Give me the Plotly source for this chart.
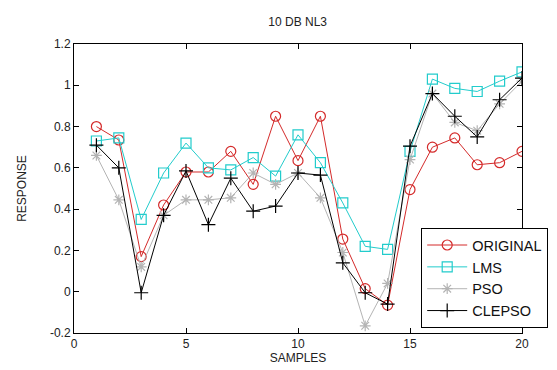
import plotly.graph_objects as go

samples = list(range(1, 21))
original = [0.80, 0.735, 0.17, 0.42, 0.58, 0.58, 0.68, 0.52, 0.85, 0.635,
            0.85, 0.255, 0.015, -0.065, 0.495, 0.70, 0.745, 0.615, 0.625, 0.68]
lms = [0.73, 0.745, 0.35, 0.575, 0.72, 0.60, 0.59, 0.65, 0.56, 0.76,
       0.625, 0.43, 0.22, 0.205, 0.68, 1.03, 0.985, 0.97, 1.02, 1.065]
pso = [0.66, 0.445, 0.12, 0.37, 0.445, 0.445, 0.455, 0.575, 0.52, 0.575,
       0.455, 0.19, -0.165, 0.04, 0.64, 0.96, 0.82, 0.78, 0.91, 1.02]
clepso = [0.71, 0.60, -0.005, 0.37, 0.585, 0.325, 0.55, 0.39, 0.415, 0.575,
          0.565, 0.14, -0.005, -0.06, 0.705, 0.96, 0.85, 0.75, 0.93, 1.035]

x_ticks = [0, 5, 10, 15, 20]
y_ticks = [-0.2, 0, 0.2, 0.4, 0.6, 0.8, 1, 1.2]
y_tick_text = ["-0.2", "0", "0.2", "0.4", "0.6", "0.8", "1", "1.2"]

series = [
    ("ORIGINAL", original, "#d42a2a", "circle-open", 10),
    ("LMS", lms, "#22cccc", "square-open", 10),
    ("PSO", pso, "#b4b4b4", "asterisk-open", 9),
    ("CLEPSO", clepso, "#000000", "cross-thin-open", 10),
]

FONT = "Liberation Sans, Arial"

fig = go.Figure()
for name, vals, color, sym, size in series:
    fig.add_trace(go.Scatter(
        x=samples, y=vals, name=name, mode="lines+markers",
        line=dict(color=color, width=1),
        marker=dict(symbol=sym, size=size, color=color,
                    line=dict(color=color, width=1.2)),
    ))

axis_common = dict(
    showline=True, linecolor="black", linewidth=1, mirror="ticks",
    ticks="inside", ticklen=5, tickcolor="black", showgrid=False,
    zeroline=False, tickfont=dict(family=FONT, size=12, color="#222"),
)

fig.update_layout(
    width=557, height=370,
    margin=dict(l=66, r=43, t=36, b=45),
    paper_bgcolor="white", plot_bgcolor="white",
    title=dict(text="10 DB NL3", x=0.52, xanchor="center", y=0.975, yanchor="top",
               font=dict(family=FONT, size=12, color="#222")),
    xaxis=dict(range=[0, 20], tickvals=x_ticks,
               title=dict(text="SAMPLES", standoff=2,
                          font=dict(family=FONT, size=12, color="#222")),
               **axis_common),
    yaxis=dict(range=[-0.2, 1.2], tickvals=y_ticks, ticktext=y_tick_text,
               title=dict(text="RESPONSE", standoff=20,
                          font=dict(family=FONT, size=12, color="#222")),
               **axis_common),
    legend=dict(x=0.775, y=0.017, xanchor="left", yanchor="bottom",
                bgcolor="white", bordercolor="black", borderwidth=1,
                font=dict(family=FONT, size=14.5, color="#111"),
                tracegroupgap=0, itemwidth=40),
    showlegend=True,
)

fig.write_html("out.html")
